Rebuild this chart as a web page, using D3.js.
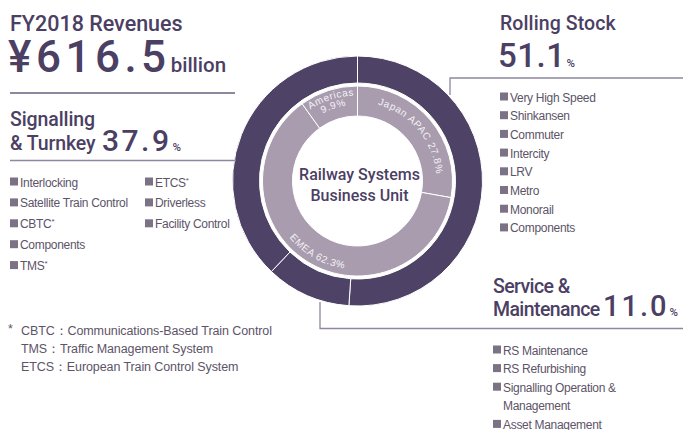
<!DOCTYPE html>
<html>
<head>
<meta charset="utf-8">
<script src="https://cdn.jsdelivr.net/npm/d3@7"></script>
<style>
  body { margin: 0; background: #fff; }
  svg { display: block; font-family: "Liberation Sans", Arial, Helvetica, sans-serif; }
  .title { fill: #4b4064; font-family: Roboto, "Liberation Sans", sans-serif; font-weight: 500; }
  .head { font-size: 19.5px; letter-spacing: -0.3px; }
  .item { fill: #5d5468; font-size: 12px; letter-spacing: -0.3px; }
  .note { fill: #5d5468; font-size: 12.5px; letter-spacing: -0.1px; }
  .ring-label { fill: #f4f1f5; font-size: 10px; letter-spacing: 0.6px; }
</style>
</head>
<body>
<div id="chart"></div>
<script>
// Données
const businessSegments = ["Rolling Stock", "Service & Maintenance", "Signalling & Turnkey"];
const businessShares = [51.1, 11.0, 37.9];
const regions = ["Japan APAC", "EMEA", "Americas"];
const regionShares = [27.8, 62.3, 9.9];

const signallingItemsA = ["Interlocking", "Satellite Train Control", "CBTC*", "Components", "TMS*"];
const signallingItemsB = ["ETCS*", "Driverless", "Facility Control"];
const rollingStockItems = ["Very High Speed", "Shinkansen", "Commuter", "Intercity", "LRV", "Metro", "Monorail", "Components"];
const serviceItems = ["RS Maintenance", "RS Refurbishing", "Signalling Operation &\nManagement", "Asset Management"];
const footnotes = ["CBTC\uFF1ACommunications-Based Train Control", "TMS\uFF1ATraffic Management System", "ETCS\uFF1AEuropean Train Control System"];

// Configuration
const width = 683, height = 430;
const cx = 357.5, cy = 181;
const darkColor = "#4e4366";
const lightColor = "#a89cae";
const lineColor = "#8f86a0";

const svg = d3.select("#chart").append("svg")
    .attr("width", width)
    .attr("height", height);

// Donut
const pie = d3.pie().sort(null).value(d => d);
const outerArc = d3.arc().innerRadius(98).outerRadius(125);
const innerArc = d3.arc().innerRadius(65).outerRadius(95);

const donut = svg.append("g").attr("transform", `translate(${cx},${cy})`);

donut.selectAll(".outer")
    .data(pie(businessShares))
    .join("path")
    .attr("class", "outer")
    .attr("d", outerArc)
    .attr("fill", darkColor)
    .attr("stroke", "#fff")
    .attr("stroke-width", 1);

const innerSlices = pie(regionShares);
donut.selectAll(".inner")
    .data(innerSlices)
    .join("path")
    .attr("class", "inner")
    .attr("d", innerArc)
    .attr("fill", lightColor)
    .attr("stroke", "#fff")
    .attr("stroke-width", 1);

// Chemins pour les libellés courbes
function arcPath(r, a0, a1) {
    const p = d3.path();
    const s0 = a0 - Math.PI / 2, s1 = a1 - Math.PI / 2;
    p.moveTo(r * Math.cos(s0), r * Math.sin(s0));
    p.arc(0, 0, r, s0, s1, a1 < a0);
    return p.toString();
}

const defs = svg.append("defs");
function curvedLabel(id, r, a0, a1, text) {
    defs.append("path").attr("id", id).attr("d", arcPath(r, a0, a1))
        .attr("transform", `translate(${cx},${cy})`);
    svg.append("text").attr("class", "ring-label")
        .append("textPath")
        .attr("href", "#" + id)
        .attr("startOffset", "50%")
        .attr("text-anchor", "middle")
        .text(text);
}

const [japan, emea, americas] = innerSlices;
curvedLabel("lab-japan", 79, japan.startAngle, japan.endAngle, `${regions[0]} ${regionShares[0]}%`);
curvedLabel("lab-emea", 88.5, emea.endAngle - 0.25, emea.startAngle + 0.15, `${regions[1]} ${regionShares[1]}%`);
curvedLabel("lab-am1", 85.5, americas.startAngle, americas.endAngle, regions[2]);
curvedLabel("lab-am2", 76, americas.startAngle, americas.endAngle, `${regionShares[2]}%`);

// Centre
const centerText = svg.append("text")
    .attr("class", "title")
    .attr("text-anchor", "middle")
    .style("font-size", "16px");
centerText.append("tspan").attr("x", cx + 2).attr("y", cy - 1).text("Railway Systems");
centerText.append("tspan").attr("x", cx + 2).attr("y", cy + 20).text("Business Unit");

// Lignes de séparation et crochets
const lines = svg.append("g").attr("stroke", lineColor).attr("stroke-width", 1.3).attr("fill", "none");
lines.append("line").attr("x1", 10).attr("x2", 235).attr("y1", 93).attr("y2", 93).attr("stroke-width", 1.8);
lines.append("line").attr("x1", 10).attr("x2", 236).attr("y1", 160.5).attr("y2", 160.5);
lines.append("polyline").attr("points", "450,95 450,78 683,78");
lines.append("polyline").attr("points", "320,302 320,328.5 683,328.5");

// Titre principal
svg.append("text").attr("class", "title").attr("x", 10).attr("y", 31)
    .style("font-size", "21.5px").text("FY2018 Revenues");
const rev = svg.append("text").attr("class", "title").attr("x", 8).attr("y", 72);
rev.append("tspan").style("font-size", "44px").style("letter-spacing", "4.5px").text("\u00A5616.5");
rev.append("tspan").attr("dx", 0).style("font-size", "20.5px").text("billion");

// Bloc segment avec pourcentage
function segmentHeader(x, lines1, yLines, pctX, pctY, pct, pctSize, spacing, headSpacing) {
    const t = svg.append("text").attr("class", "title head").style("letter-spacing", headSpacing + "px");
    lines1.forEach((l, i) => t.append("tspan").attr("x", x).attr("y", yLines[i]).text(l));
    const p = svg.append("text").attr("class", "title").attr("x", pctX).attr("y", pctY);
    p.append("tspan").style("font-size", pctSize + "px").style("letter-spacing", spacing + "px").text(pct.toFixed(1));
    p.append("tspan").attr("dx", 1).style("font-size", "11.5px").text("%");
}

segmentHeader(10, ["Signalling", "& Turnkey"], [126, 150], 102, 151, businessShares[2], 30, 2.5, -0.1);
segmentHeader(500, ["Rolling Stock"], [30], 498, 67, businessShares[0], 33, 0.5, 0.1);
segmentHeader(493, ["Service &", "Maintenance"], [293, 315.5], 603, 316, businessShares[1], 29, 2, -0.6);

// Listes à puces
function bulletList(items, x, y0, step) {
    let row = 0;
    items.forEach(item => {
        const parts = item.split("\n");
        const y = y0 + row * step;
        svg.append("rect").attr("x", x).attr("y", y - 4.5).attr("width", 8).attr("height", 8).attr("fill", "#7b7285");
        parts.forEach((part, j) => {
            const t = svg.append("text").attr("class", "item").attr("x", x + 10).attr("y", y + 4.5 + j * step);
            if (part.endsWith("*")) {
                t.append("tspan").text(part.slice(0, -1));
                t.append("tspan").attr("dy", -4).style("font-size", "8px").text("*");
            } else {
                t.text(part);
            }
        });
        row += parts.length;
    });
}

bulletList(signallingItemsA, 10, 182, 20.9);
bulletList(signallingItemsB, 145, 182, 20.9);
bulletList(rollingStockItems, 500, 97, 18.7);
bulletList(serviceItems, 493, 350, 18.6);

// Notes
svg.append("text").attr("class", "note").attr("x", 8).attr("y", 333).text("*");
footnotes.forEach((f, i) => {
    svg.append("text").attr("class", "note").attr("x", 21).attr("y", 335 + i * 18.2).text(f);
});
</script>
</body>
</html>
